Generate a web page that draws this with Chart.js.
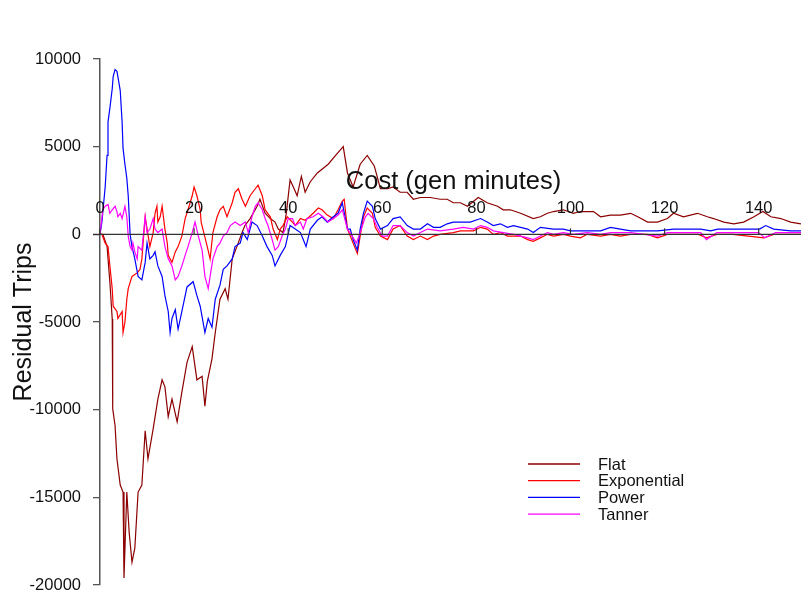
<!DOCTYPE html>
<html>
<head>
<meta charset="utf-8">
<script src="https://cdn.jsdelivr.net/npm/chart.js@4.4.1/dist/chart.umd.min.js"></script>
<style>
  html, body { margin: 0; padding: 0; background: #fff; }
  canvas { display: block; }
</style>
</head>
<body>
<canvas id="residChart" width="801" height="595"></canvas>
<script>
// series names and colours, in legend order
const seriesNames = ['Flat', 'Exponential', 'Power', 'Tanner'];
const seriesColors = ['#8b0000', '#ff0000', '#0000ff', '#ff00ff'];

// x axis tick values / labels
const xTicks = [0, 20, 40, 60, 80, 100, 120, 140];
const xTickLabels = ['0', '20', '40', '60', '80', '100', '120', '140'];

// residual trips vs cost (gen minutes)
const flatCost = [0, 0.6, 1.5, 2.1, 2.6, 2.7, 3.2, 3.6, 4.3, 4.9,
  5.1, 5.7, 6.2, 6.8, 7.4, 8.1, 8.9, 9.6, 10.2, 11.3,
  12.3, 13.2, 13.8, 14.5, 15.3, 16.4, 17.4, 18.5, 19.6, 20.6,
  21.7, 22.3, 22.8, 23.8, 24.5, 25.5, 26.6, 27.2, 28.1, 29.1,
  30.2, 30.8, 31.9, 33.4, 34.0, 35.1, 36.2, 37.2, 37.9, 38.9,
  39.6, 40.4, 41.1, 41.9, 42.8, 43.6, 44.7, 46.2, 48.5, 50.4,
  51.7, 52.6, 53.8, 55.3, 56.8, 58.3, 59.6, 61.1, 62.3, 63.8,
  65.3, 66.6, 68.1, 70.2, 72.3, 73.8, 75.1, 76.6, 78.1, 80.4,
  82.3, 84.5, 85.7, 87.2, 89.4, 92.1, 93.6, 95.1, 96.4, 98.5,
  100.6, 102.1, 104.9, 106.4, 108.5, 110.6, 112.8, 114.3, 116.4, 118.5,
  120.6, 121.9, 124.0, 127.0, 129.1, 130.4, 132.6, 134.7, 136.8, 139.0,
  140.9, 142.6, 144.7, 146.8, 149.0];
const flatResid = [0, 0, -680, -2730, -4830, -9940, -10900, -12800, -14300, -14700,
  -19600, -14700, -17000, -18700, -17900, -14700, -14300, -11200, -12800, -11100,
  -9400, -8300, -8700, -10400, -9400, -10700, -9000, -7300, -6400, -8300,
  -8100, -9800, -8400, -7100, -5600, -3700, -3100, -3700, -1400, -700,
  100, 500, 900, 1600, 2000, 1200, 900, 700, 300, 100,
  1200, 3100, 2700, 2200, 3300, 2400, 3000, 3500, 4000, 4600,
  5000, 3500, 2700, 4000, 4500, 3900, 2600, 2600, 2700, 2400,
  2400, 2000, 2100, 2100, 2000, 2000, 1800, 1800, 1600, 2100,
  1800, 1600, 1400, 1400, 1200, 900, 1000, 1200, 1300, 1400,
  1200, 1300, 1300, 1000, 1100, 1100, 1200, 1000, 700, 700,
  900, 1200, 1000, 1200, 1000, 900, 700, 600, 700, 1000,
  1300, 1000, 900, 700, 600];

const expCost = [0, 0.4, 1.1, 1.7, 2.1, 2.6, 2.8, 3.6, 3.8, 4.7,
  4.9, 5.3, 5.7, 6.0, 6.8, 7.9, 8.5, 8.9, 9.1, 9.6,
  10.6, 11.3, 11.7, 12.1, 12.3, 12.8, 13.2, 13.8, 14.3, 14.5,
  15.3, 16.0, 16.6, 17.4, 18.1, 18.7, 19.6, 20.0, 20.6, 21.3,
  21.5, 22.8, 23.4, 24.0, 24.9, 25.5, 26.2, 27.0, 28.1, 28.7,
  29.4, 30.2, 30.9, 31.9, 33.0, 33.6, 34.5, 35.1, 36.2, 36.8,
  37.7, 38.3, 38.9, 39.8, 40.9, 41.5, 42.6, 43.6, 44.5, 45.3,
  46.4, 47.2, 48.3, 49.6, 50.6, 51.5, 51.9, 52.6, 53.2, 53.8,
  54.7, 55.3, 56.0, 56.8, 57.9, 58.5, 59.6, 61.1, 62.3, 63.8,
  65.3, 66.6, 68.1, 69.6, 70.9, 72.3, 75.1, 76.6, 79.4, 80.9,
  82.3, 83.6, 85.1, 86.6, 89.4, 90.9, 92.1, 93.6, 95.1, 96.4,
  98.5, 100.0, 102.1, 103.6, 106.4, 108.5, 110.6, 112.8, 116.4, 118.5,
  120.6, 127.2, 128.9, 131.1, 134.5, 141.1, 143.2, 149.0];
const expResid = [0, 0, -500, -700, -1800, -3100, -4100, -4400, -4800, -4400,
  -5600, -5000, -3700, -3100, -2400, -2200, -2000, -1400, -700, 1000,
  -700, 100, 1200, 1600, 700, 1000, 1600, 300, -500, -1200,
  -1600, -1000, -700, -100, 900, 1400, 2200, 2700, 2200, 1400,
  700, -700, -1400, 100, 1000, 1400, 1600, 1000, 1800, 2400,
  2600, 2000, 1600, 2200, 2600, 2800, 2200, 1400, 1000, 300,
  -300, 300, 500, 1000, 700, 500, 900, 800, 1000, 1200,
  1500, 1400, 1100, 900, 1400, 1900, 2000, 300, -100, -500,
  -1100, -100, 1000, 1500, 1200, 400, -100, -300, 300, 500,
  -100, -300, -100, -300, -100, 0, 100, 200, 200, 400,
  300, 0, 100, -100, -100, -300, -400, -200, 0, -100,
  0, -100, -200, 0, -100, 0, -100, 0, 0, -200,
  0, 0, -200, 0, 0, -200, 0, 0];

const powerCost = [0, 0.4, 1.1, 1.5, 1.7, 2.1, 2.6, 2.8, 3.2, 3.6,
  3.8, 4.3, 4.7, 4.9, 5.3, 5.7, 6.0, 6.4, 6.8, 7.4,
  8.1, 8.9, 9.6, 10.0, 10.6, 11.3, 11.7, 12.3, 13.2, 13.8,
  14.5, 14.9, 15.3, 16.0, 16.6, 17.4, 18.5, 19.8, 20.6, 21.3,
  22.3, 23.0, 23.8, 24.5, 25.5, 26.2, 27.0, 28.1, 28.7, 29.8,
  30.4, 31.3, 32.3, 33.4, 34.5, 35.5, 36.6, 37.2, 38.3, 39.4,
  40.4, 41.5, 42.6, 43.2, 43.8, 44.7, 46.2, 47.2, 48.3, 49.6,
  50.6, 51.5, 52.6, 53.2, 53.8, 54.7, 55.3, 56.0, 56.8, 57.9,
  58.5, 59.6, 61.1, 62.3, 63.8, 65.3, 66.6, 68.1, 69.6, 70.9,
  72.3, 73.8, 75.1, 78.7, 80.9, 82.3, 83.6, 85.1, 86.6, 87.9,
  89.4, 90.9, 92.1, 93.6, 96.4, 98.5, 100.0, 103.6, 106.4, 108.5,
  110.6, 112.8, 116.4, 118.5, 121.9, 124.9, 127.7, 129.8, 131.3, 134.7,
  140.2, 141.5, 143.2, 146.8, 149.0];
const powerResid = [0, 700, 2700, 4500, 6400, 7200, 8300, 9000, 9400, 9300,
  9000, 8200, 6400, 4900, 4000, 3200, 2200, 0, -700, -1400,
  -2400, -2600, -1600, -500, -1400, -1200, -1000, -1800, -2400, -3500,
  -4400, -5600, -4800, -4300, -5400, -4400, -3000, -2700, -3500, -4100,
  -5600, -4800, -5300, -3700, -2900, -2000, -1800, -1400, -700, -500,
  100, -300, 700, 500, -100, -700, -1200, -1800, -1200, -700,
  500, 300, 100, -300, -700, 300, 800, 1000, 700, 1000,
  1200, 1800, 300, 300, -300, -900, 300, 1200, 1900, 1600,
  900, 300, 500, 900, 1000, 500, 300, 300, 600, 400,
  400, 600, 700, 700, 900, 700, 500, 600, 400, 500,
  400, 300, 100, 400, 300, 300, 200, 200, 200, 400,
  300, 200, 200, 200, 300, 300, 300, 200, 300, 300,
  300, 500, 300, 200, 200];

const tannerCost = [0, 0.6, 1.1, 1.7, 2.1, 2.6, 3.2, 3.6, 3.8, 4.3,
  4.7, 5.3, 5.7, 6.0, 6.4, 6.8, 7.0, 7.4, 7.9, 8.1,
  8.9, 9.6, 10.0, 10.6, 11.3, 11.7, 12.3, 13.2, 13.8, 14.5,
  15.3, 16.0, 16.6, 17.4, 18.1, 18.7, 19.6, 20.2, 20.9, 21.7,
  22.3, 23.0, 23.4, 24.0, 24.9, 25.5, 26.2, 27.0, 27.7, 28.7,
  29.8, 30.9, 31.5, 32.3, 33.0, 33.6, 34.5, 35.1, 35.7, 36.6,
  37.2, 37.9, 38.7, 39.4, 40.0, 40.9, 41.5, 42.6, 43.2, 44.0,
  45.3, 46.4, 47.4, 48.5, 49.6, 50.6, 51.5, 52.6, 53.6, 54.5,
  55.3, 56.4, 57.0, 58.1, 58.9, 60.0, 61.1, 62.3, 63.8, 65.3,
  66.6, 68.1, 69.6, 72.3, 75.1, 77.2, 79.4, 80.9, 82.3, 83.6,
  85.7, 87.9, 90.9, 92.1, 93.6, 95.1, 96.4, 98.5, 100.6, 103.6,
  106.4, 108.5, 112.8, 118.5, 120.6, 127.7, 128.9, 131.1, 140.0, 141.3,
  143.6, 149.0];
const tannerResid = [0, 1400, 1600, 1700, 1200, 1400, 1600, 1300, 1000, 1200,
  900, 1600, 1000, -100, -700, -900, -500, -1000, -1400, -700,
  -900, 1000, 100, 300, 900, 300, 100, 300, -700, -1400,
  -1800, -2600, -2400, -1800, -1200, -700, 100, 700, -100, -900,
  -2400, -3100, -2400, -1400, -700, -500, -100, 100, 500, 700,
  500, 700, 100, 1000, 1600, 1800, 1400, 900, 500, -300,
  -900, -700, -100, 300, 900, 900, 500, 700, 300, 900,
  1000, 1200, 1000, 700, 900, 1100, 1400, 300, -100, -500,
  100, 1000, 1200, 900, 400, -100, -100, 500, 500, 100,
  -100, 100, 300, 200, 300, 400, 300, 500, 400, 200,
  100, 0, -200, -300, -100, 100, 0, 100, 0, 100,
  0, 100, 100, -100, 100, 100, -300, 100, 100, -200,
  100, 100];

const FONT = "'Liberation Sans', Arial, sans-serif";

function toPoints(xs, ys) {
    return xs.map((x, i) => ({ x: x, y: ys[i] }));
}

// zero line with ticks above it, axis title, and the legend box
const overlayPlugin = {
    id: 'overlay',
    afterDatasetsDraw(chart) {
        const { ctx, chartArea } = chart;
        const xs = chart.scales.x;
        const ys = chart.scales.y;
        const y0 = ys.getPixelForValue(0);

        ctx.save();
        ctx.strokeStyle = '#333';
        ctx.lineWidth = 1.4;
        ctx.beginPath();
        ctx.moveTo(xs.getPixelForValue(0) - 7, y0);
        ctx.lineTo(chartArea.right, y0);
        ctx.stroke();

        ctx.lineWidth = 1.2;
        ctx.fillStyle = '#111';
        ctx.font = '16.5px ' + FONT;
        ctx.textAlign = 'center';
        ctx.textBaseline = 'middle';
        xTicks.forEach((v, i) => {
            const px = xs.getPixelForValue(v);
            ctx.beginPath();
            ctx.moveTo(px, y0);
            ctx.lineTo(px, y0 - 6);
            ctx.stroke();
            ctx.fillText(xTickLabels[i], px, y0 - 26);
        });

        // axis title sits above the labels
        ctx.font = '25.5px ' + FONT;
        ctx.textBaseline = 'alphabetic';
        ctx.fillText('Cost (gen minutes)', (chartArea.left + chartArea.right) / 2 + 3, y0 - 45);

        // legend
        ctx.font = '16.5px ' + FONT;
        ctx.textAlign = 'left';
        ctx.textBaseline = 'middle';
        seriesNames.forEach((name, i) => {
            const ly = 464 + i * 16.7;
            ctx.strokeStyle = seriesColors[i];
            ctx.lineWidth = 1.3;
            ctx.beginPath();
            ctx.moveTo(528, ly);
            ctx.lineTo(580, ly);
            ctx.stroke();
            ctx.fillStyle = '#111';
            ctx.fillText(name, 598, ly + 1);
        });
        ctx.restore();
    }
};

const seriesPoints = [
    toPoints(flatCost, flatResid),
    toPoints(expCost, expResid),
    toPoints(powerCost, powerResid),
    toPoints(tannerCost, tannerResid)
];

const ctx = document.getElementById('residChart').getContext('2d');
new Chart(ctx, {
    type: 'line',
    data: {
        datasets: seriesNames.map((name, i) => ({
            label: name,
            data: seriesPoints[i],
            borderColor: seriesColors[i],
            borderWidth: 1.2,
            pointRadius: 0,
            tension: 0,
            fill: false,
            order: seriesNames.length - i   // later series on top, like the original
        }))
    },
    options: {
        responsive: false,
        animation: false,
        layout: { padding: { top: 59, bottom: 10, left: 0, right: 0 } },
        plugins: {
            legend: { display: false },
            tooltip: { enabled: false }
        },
        scales: {
            x: { type: 'linear', min: 0, max: 149, display: false },
            y: {
                min: -20000,
                max: 10000,
                ticks: {
                    stepSize: 5000,
                    color: '#111',
                    padding: 12,
                    font: { family: FONT, size: 16.5 },
                    callback: v => String(v)
                },
                grid: { drawOnChartArea: false, tickLength: 7, color: '#555', lineWidth: 1.3 },
                border: { color: '#555', width: 1.5 },
                title: {
                    display: true,
                    text: 'Residual Trips',
                    color: '#111',
                    font: { family: FONT, size: 25 },
                    padding: { top: 9, bottom: 0 }
                },
                afterFit(scale) {
                    scale.width = 100;
                    scale.paddingTop = 0;
                    scale.paddingBottom = 0;
                }
            }
        }
    },
    plugins: [overlayPlugin]
});
</script>
</body>
</html>
